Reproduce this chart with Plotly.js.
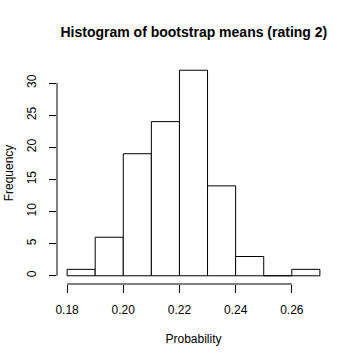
<!DOCTYPE html>
<html>
<head>
<meta charset="utf-8">
<script src="https://cdn.plot.ly/plotly-3.0.1.min.js"></script>
<style>html,body{margin:0;padding:0;background:#fff;}#chart{width:360px;height:360px;}</style>
</head>
<body>
<div id="chart"></div>
<script>
// Bin edges and counts
const binEdges = [0.18, 0.19, 0.20, 0.21, 0.22, 0.23, 0.24, 0.25, 0.26, 0.27];
const counts = [1, 6, 19, 24, 32, 14, 3, 0, 1];
const xTicks = [0.18, 0.20, 0.22, 0.24, 0.26];
const xTickLabels = ["0.18", "0.20", "0.22", "0.24", "0.26"];
const yTicks = [0, 5, 10, 15, 20, 25, 30];
const yTickLabels = ["0", "5", "10", "15", "20", "25", "30"];

const mids = counts.map((c, i) => (binEdges[i] + binEdges[i + 1]) / 2);
const widths = counts.map((c, i) => binEdges[i + 1] - binEdges[i]);

const xmin = binEdges[0], xmax = binEdges[binEdges.length - 1];
const xpad = (xmax - xmin) * 0.04;
const ymax = Math.max(...counts);
const ypad = ymax * 0.04;

const font = {family: "Liberation Sans, Arial, sans-serif", color: "#000", size: 12};

const trace = {
  type: "bar",
  x: mids,
  y: counts,
  width: widths,
  marker: {color: "#fff", line: {color: "#000", width: 1}},
  hoverinfo: "none"
};

const layout = {
  width: 360, height: 360,
  margin: {l: 57, r: 29.5, t: 61.6, b: 76},
  paper_bgcolor: "#fff", plot_bgcolor: "#fff",
  font: font,
  showlegend: false,
  bargap: 0,
  title: {text: "Histogram of bootstrap means (rating 2)", font: {family: font.family, size: 14, color: "#000", weight: "bold"}, x: 0.5385, xanchor: "center", y: 0.911, yanchor: "middle"},
  xaxis: {
    range: [xmin - xpad, xmax + xpad],
    tickmode: "array", tickvals: xTicks, ticktext: xTickLabels,
    ticks: "outside", ticklen: 8, tickwidth: 1, tickcolor: "#000",
    ticklabelstandoff: 7,
    showgrid: false, zeroline: false, showline: false,
    tickfont: font,
    title: {text: "Probability", font: font, standoff: 18},
    automargin: false
  },
  yaxis: {
    range: [-ypad, ymax + ypad],
    tickmode: "array", tickvals: yTicks, ticktext: yTickLabels,
    tickangle: -90,
    ticks: "outside", ticklen: 7, tickwidth: 1, tickcolor: "#000",
    ticklabelstandoff: 8,
    showgrid: false, zeroline: false, showline: false,
    tickfont: font,
    title: {text: "Frequency", font: font, standoff: 8.5},
    automargin: false
  },
  shapes: [
    {type: "line", xref: "x", yref: "paper", x0: xTicks[0], x1: xTicks[xTicks.length - 1], y0: 0, y1: 0, line: {color: "#000", width: 1}},
    {type: "line", xref: "paper", yref: "y", x0: 0, x1: 0, y0: yTicks[0], y1: yTicks[yTicks.length - 1], line: {color: "#000", width: 1}}
  ]
};

Plotly.newPlot("chart", [trace], layout, {displayModeBar: false, staticPlot: true});
</script>
</body>
</html>
